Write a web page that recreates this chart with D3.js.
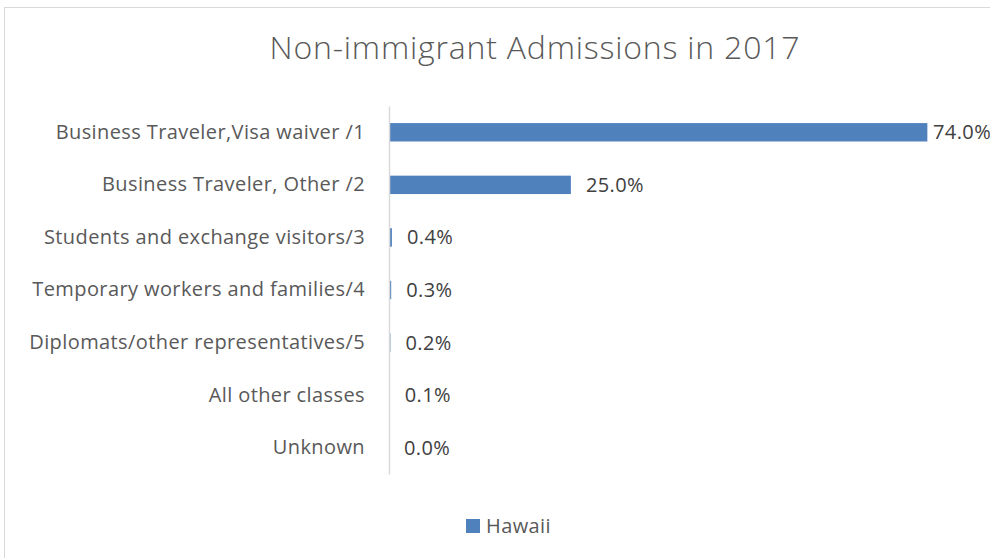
<!DOCTYPE html>
<html>
<head>
<meta charset="utf-8">
<script src="https://cdn.jsdelivr.net/npm/d3@7"></script>
<style>
  body { margin: 0; background: #fff; }
  svg { display: block; font-family: "Open Sans", sans-serif; }
</style>
</head>
<body>
<svg id="chart" width="990" height="558"></svg>
<script>
// categories and values (percent of Hawaii non-immigrant admissions)
const categories = [
  "Business Traveler,Visa waiver /1",
  "Business Traveler, Other /2",
  "Students and exchange visitors/3",
  "Temporary workers and families/4",
  "Diplomats/other representatives/5",
  "All other classes",
  "Unknown",
];
const hawaii = [74.0, 25.0, 0.4, 0.3, 0.2, 0.1, 0.0];
const seriesName = "Hawaii";
const title = "Non-immigrant Admissions in 2017";

const width = 990;
const svg = d3.select("#chart");
const textColor = "#595959";
const barColor = "#4f81bd";

// chart border
svg.append("rect")
  .attr("x", 4.5).attr("y", 7.5)
  .attr("width", 1000).attr("height", 600)
  .attr("fill", "none")
  .attr("stroke", "#d9d9d9");

svg.append("text")
  .attr("x", 535).attr("y", 59)
  .attr("text-anchor", "middle")
  .attr("fill", textColor)
  .attr("font-size", 32)
  .attr("font-weight", 300)
  .attr("letter-spacing", 0.8)
  .text(title);

const x = d3.scaleLinear().domain([0, 80]).range([389, 971]);
const y = d3.scaleBand()
  .domain(categories)
  .range([106, 474])
  .paddingInner(0.65)
  .paddingOuter(0.325);

const data = categories.map((c, i) => ({ cat: c, val: hawaii[i] }));

svg.selectAll("rect.bar")
  .data(data)
  .join("rect")
  .attr("class", "bar")
  .attr("x", x(0))
  .attr("y", (d) => y(d.cat))
  .attr("width", (d) => x(d.val) - x(0))
  .attr("height", y.bandwidth())
  .attr("fill", barColor);

// value labels, pushed left when they run into the right edge
svg.selectAll("text.lbl")
  .data(data)
  .join("text")
  .attr("class", "lbl")
  .attr("x", (d) => Math.min(x(d.val) + 15, width - 57))
  .attr("y", (d) => y(d.cat) + y.bandwidth() / 2)
  .attr("dy", "0.35em")
  .attr("fill", "#404040")
  .attr("font-size", 20)
  .attr("letter-spacing", 0.4)
  .text((d) => d.val.toFixed(1) + "%");

// category axis
const yAxis = svg.append("g")
  .attr("transform", `translate(${x(0)},0)`)
  .call(d3.axisLeft(y).tickSize(0).tickPadding(24));
yAxis.select(".domain").attr("stroke", "#d9d9d9").attr("stroke-width", 1.5);
yAxis.selectAll("text")
  .attr("fill", textColor)
  .attr("font-size", 20)
  .attr("letter-spacing", 0.4)
  .attr("font-family", "Open Sans, sans-serif");

// legend
const legend = svg.append("g").attr("transform", "translate(466,519)");
legend.append("rect")
  .attr("width", 14).attr("height", 14)
  .attr("fill", barColor);
legend.append("text")
  .attr("x", 20).attr("y", 13.5)
  .attr("fill", textColor)
  .attr("font-size", 20)
  .attr("letter-spacing", 0.4)
  .text(seriesName);
</script>
</body>
</html>
